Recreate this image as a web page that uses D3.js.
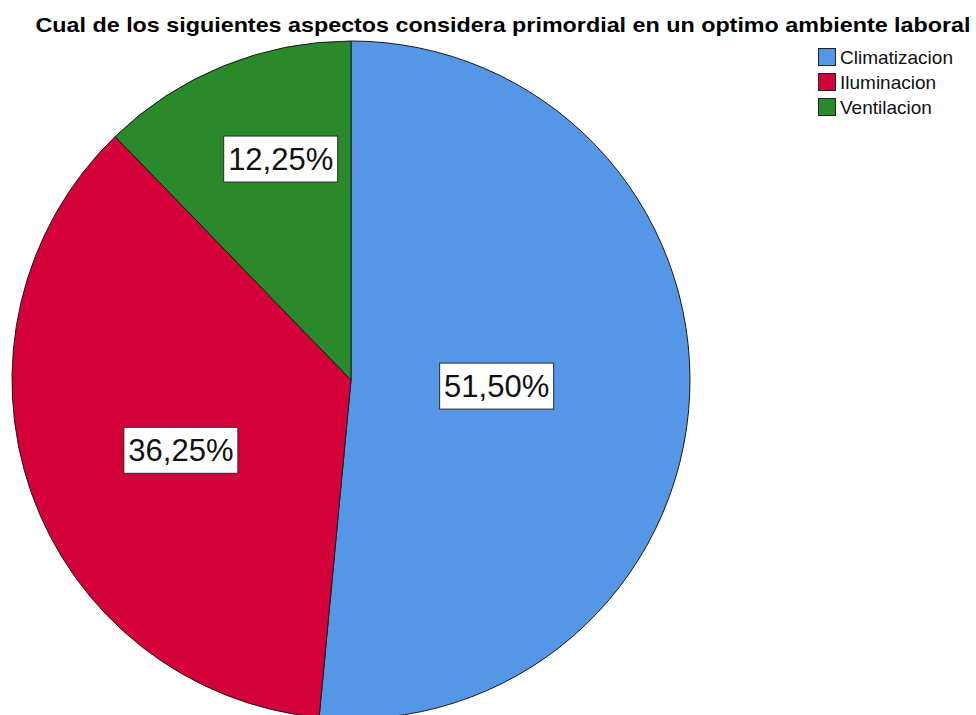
<!DOCTYPE html>
<html><head><meta charset="utf-8">
<script src="https://cdn.jsdelivr.net/npm/d3@7"></script>
<style>body{margin:0;background:#fff}svg{display:block}</style>
</head><body>
<svg id="c" width="976" height="715"></svg>
<script>
const categories = ["Climatizacion", "Iluminacion", "Ventilacion"];
const values = [51.50, 36.25, 12.25];
const labels = ["51,50%", "36,25%", "12,25%"];
const colors = ["#5596E6", "#D3003A", "#2A892A"];
const title = "Cual de los siguientes aspectos considera primordial en un optimo ambiente laboral";

const svg = d3.select("#c");
const cx = 351, cy = 380, R = 339;
// label placement (layout only): radius fraction and angular shift in degrees
const labelFrac = [0.43, 0.543, 0.684];
const labelShift = [-0.3, -3.1, 4.4];
const FONT = "Liberation Sans, Arial, sans-serif";

svg.append("text").attr("x", 503).attr("y", 32).attr("text-anchor", "middle")
  .attr("font-family", FONT).attr("font-weight", "bold")
  .attr("font-size", 21).attr("fill", "#000")
  .attr("textLength", 935).attr("lengthAdjust", "spacingAndGlyphs").text(title);

const pie = d3.pie().sort(null).value(d => d)(values);
const arc = d3.arc().innerRadius(0).outerRadius(R);
const g = svg.append("g").attr("transform", `translate(${cx},${cy})`);
g.selectAll("path").data(pie).join("path")
  .attr("d", arc).attr("fill", (d, i) => colors[i])
  .attr("stroke", "#1a1a1a").attr("stroke-width", 1);

pie.forEach((d, i) => {
  const a = (d.startAngle + d.endAngle) / 2 + labelShift[i] * Math.PI / 180;
  const r = R * labelFrac[i];
  const x = Math.sin(a) * r, y = -Math.cos(a) * r;
  const lg = g.append("g").attr("transform", `translate(${x},${y})`);
  lg.append("rect").attr("x", -57).attr("y", -23).attr("width", 114).attr("height", 46)
    .attr("fill", "#fff").attr("stroke", "#2a2a2a").attr("stroke-width", 1);
  lg.append("text").attr("text-anchor", "middle").attr("y", 11)
    .attr("font-family", FONT).attr("font-size", 31)
    .attr("fill", "#111").text(labels[i]);
});

const leg = svg.append("g").attr("transform", "translate(818,48)");
categories.forEach((c, i) => {
  const row = leg.append("g").attr("transform", `translate(0,${i * 25})`);
  row.append("rect").attr("x", 0.5).attr("y", 0.5).attr("width", 17).attr("height", 17)
    .attr("fill", colors[i]).attr("stroke", "#222").attr("stroke-width", 1);
  row.append("text").attr("x", 22).attr("y", 16)
    .attr("font-family", FONT).attr("font-size", 19)
    .attr("fill", "#111").text(c);
});
</script>
</body></html>
